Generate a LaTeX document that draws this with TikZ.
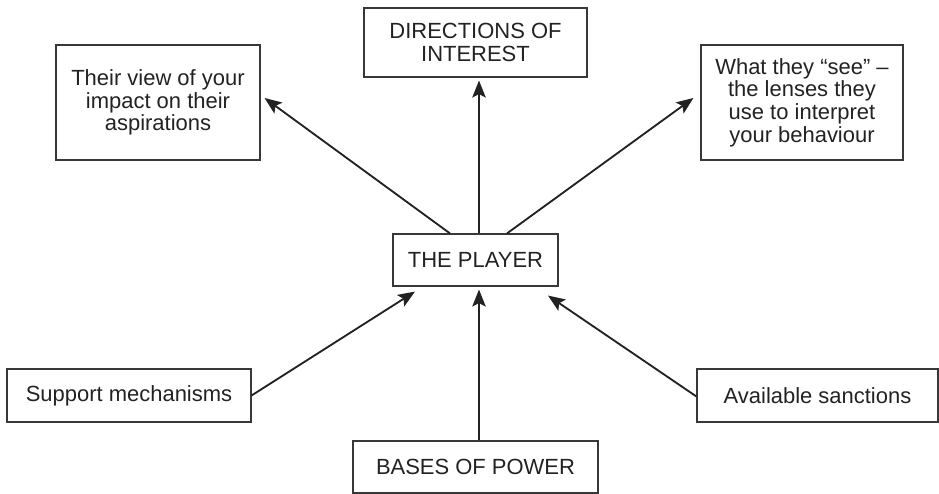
\documentclass[tikz,border=0pt]{standalone}
\usepackage{fontspec}
\setmainfont{Liberation Sans}
\usetikzlibrary{arrows.meta}
\definecolor{ink}{HTML}{222222}
\begin{document}
\begin{tikzpicture}[
    box/.style={draw=ink!90, line width=0.65pt, text=ink, align=center, inner sep=0pt,
      font=\fontsize{12.5}{12.9}\selectfont},
    link/.style={ink, line width=1.05pt, -{Stealth[length=0.34cm, width=0.27cm, inset=0.07cm]}}
  ]
  \useasboundingbox (0,0) rectangle (18.78,9.88);
  \draw
    (9.51,9.03) node[box, minimum width=4.46cm, minimum height=1.38cm] (dir){DIRECTIONS OF\\INTEREST}
    (3.16,7.83) node[box, minimum width=4.08cm, minimum height=2.3cm] (view){Their view of your\\impact on their\\aspirations}
    (16.04,7.83) node[box, minimum width=4.04cm, minimum height=2.3cm] (lens){What they “see” –\\the lenses they\\use to interpret\\your behaviour}
    (9.51,4.68) node[box, minimum width=3.3cm, minimum height=1.04cm] (player){THE PLAYER}
    (2.58,1.97) node[box, minimum width=4.88cm, minimum height=1.06cm] (support){Support mechanisms}
    (16.35,1.97) node[box, minimum width=4.82cm, minimum height=1.06cm] (sanct){Available sanctions}
    (9.51,0.54) node[box, minimum width=4.9cm, minimum height=1.04cm] (bases){BASES OF POWER};
  \begin{scope}[link]
    \draw ([xshift=0.07cm]player.north) to ([xshift=0.07cm,yshift=-0.06cm]dir.south);
    \draw ([xshift=-0.51cm]player.north) to ([xshift=0.08cm,yshift=0.09cm]view.east);
    \draw ([xshift=0.63cm]player.north) to ([xshift=-0.14cm,yshift=0.09cm]lens.west);
    \draw (support.east) to ([xshift=-1.21cm,yshift=-0.1cm]player.south);
    \draw ([yshift=-0.02cm]sanct.west) to ([xshift=1.45cm,yshift=-0.18cm]player.south);
    \draw ([xshift=0.07cm]bases.north) to ([xshift=0.07cm,yshift=-0.06cm]player.south);
  \end{scope}
\end{tikzpicture}
\end{document}
